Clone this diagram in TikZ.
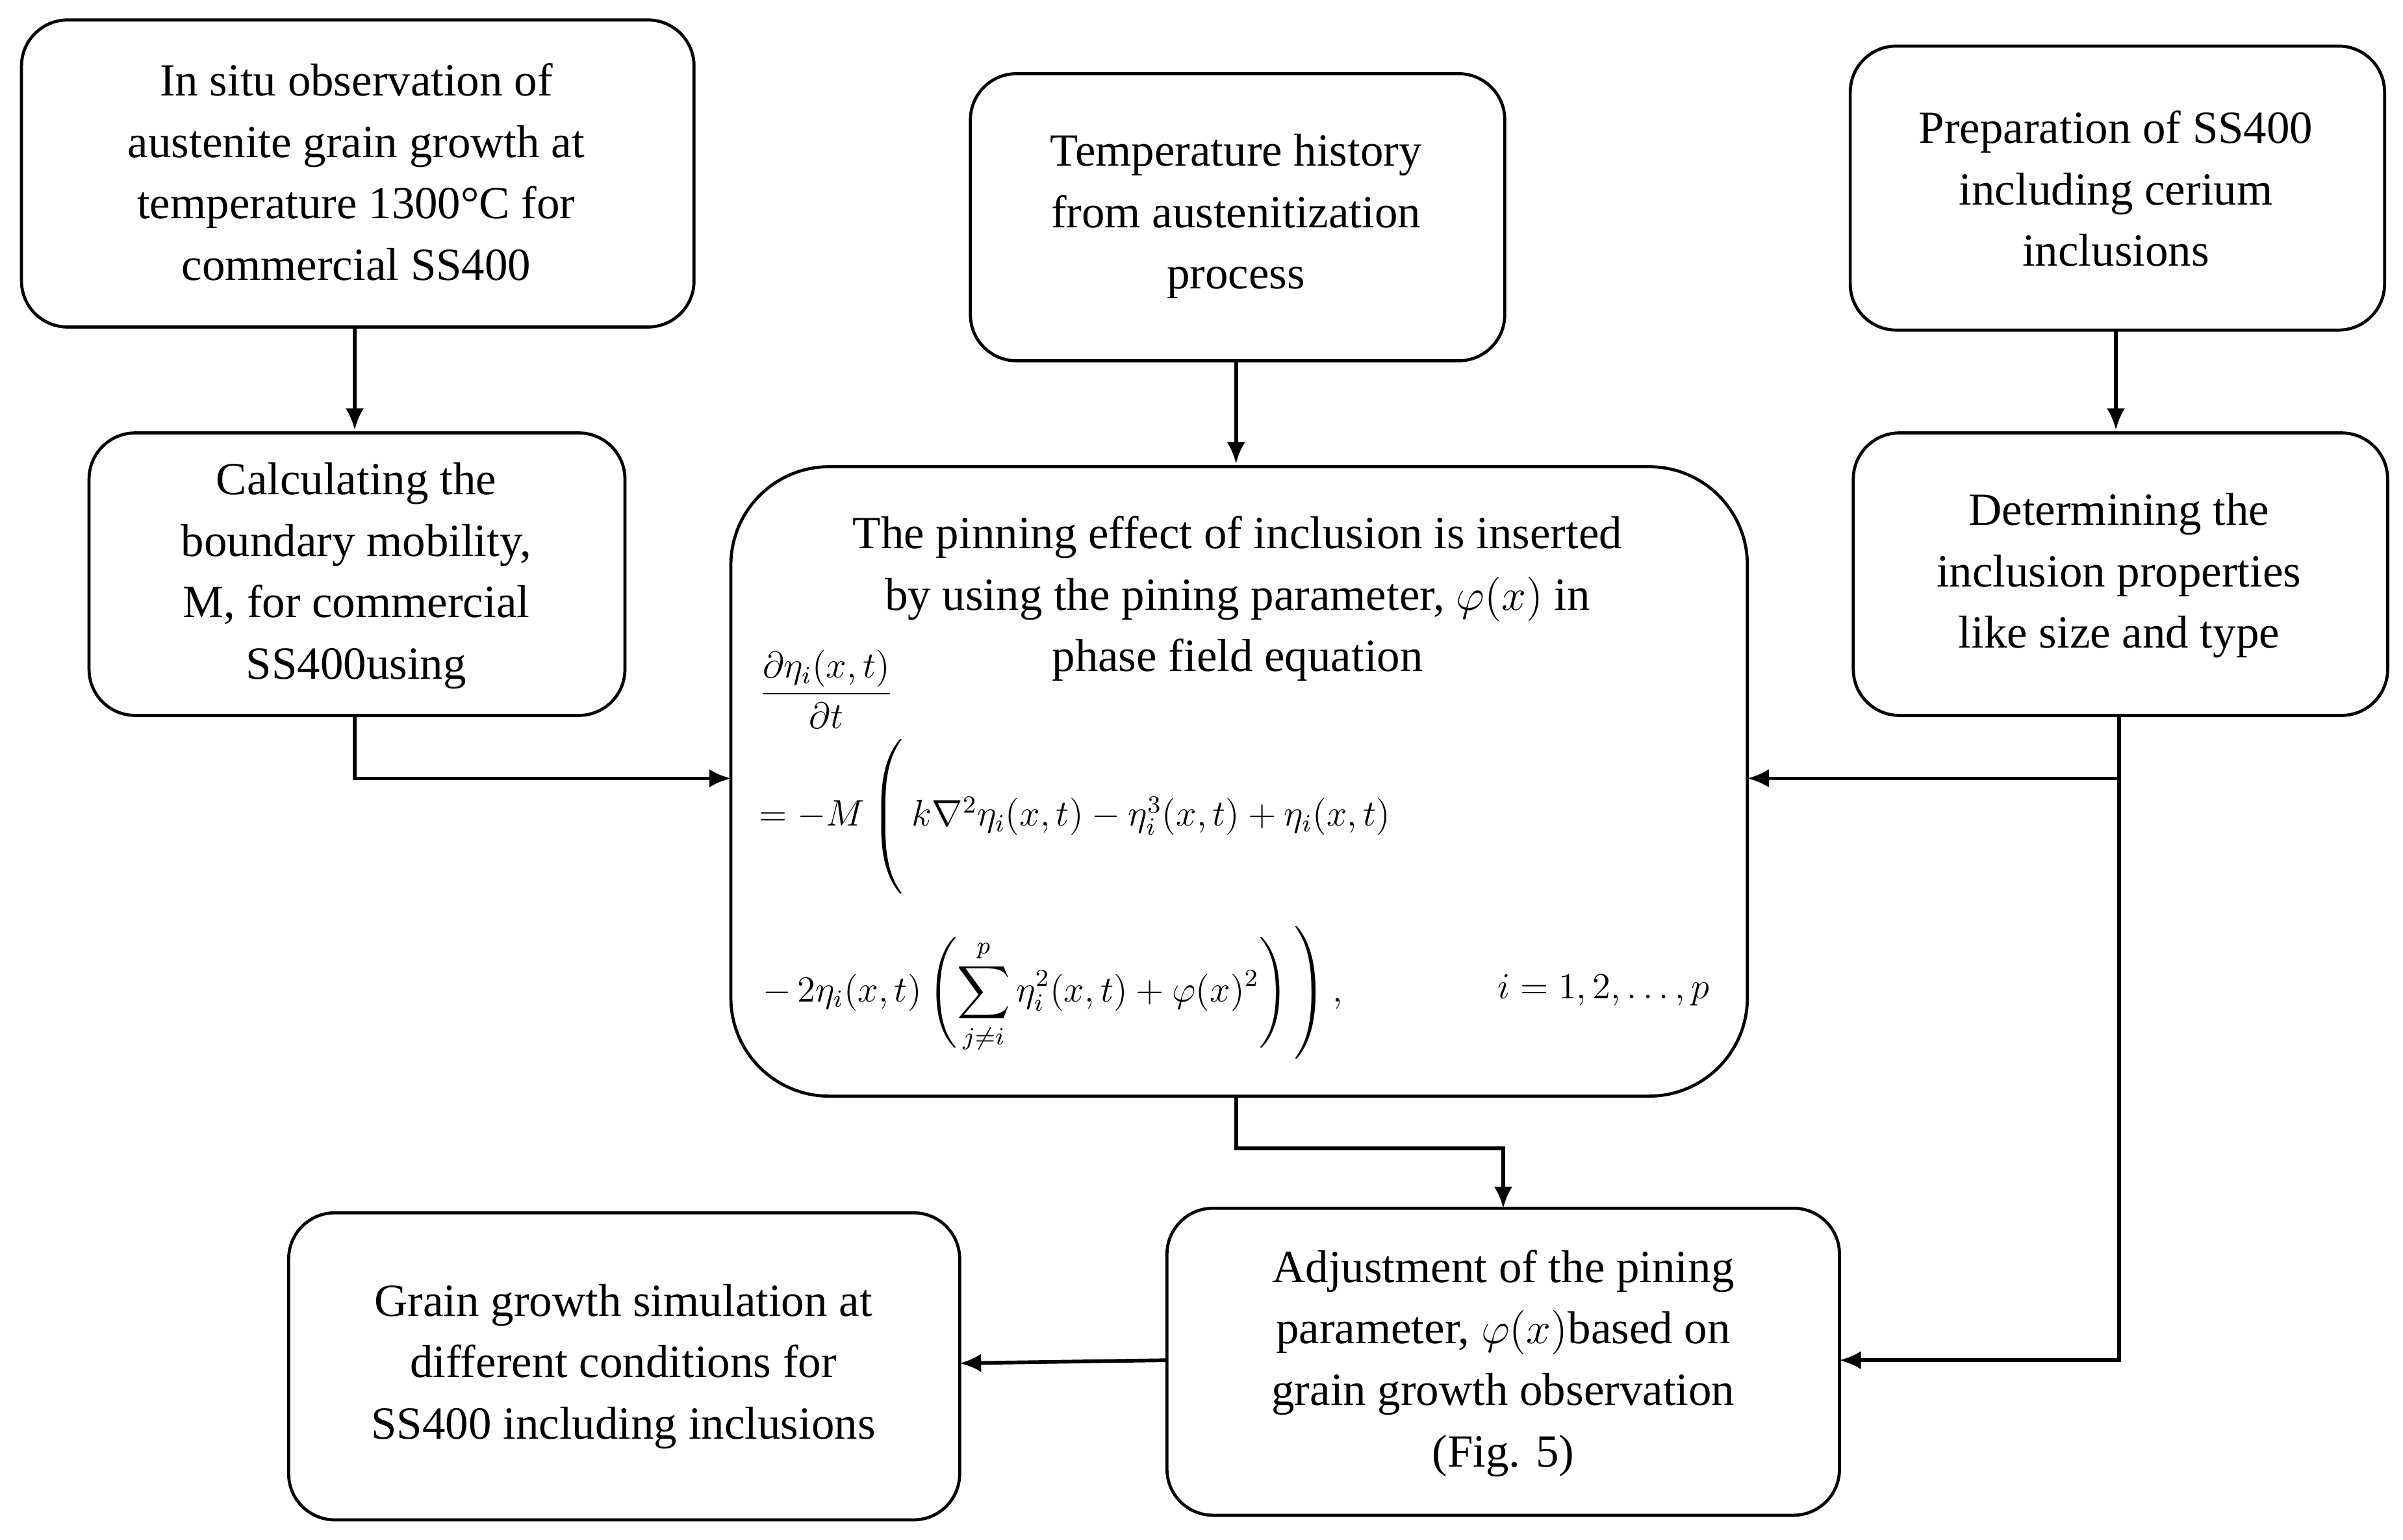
\documentclass[tikz,border=0pt]{standalone}
\usepackage{fontspec}
\usepackage{amsmath}
\setmainfont{Liberation Serif}
\usetikzlibrary{arrows.meta}
\begin{document}
\begin{tikzpicture}[x=0.5pt,y=-0.5pt,
  box/.style={draw,line width=1pt,rounded corners=15pt},
  txt/.style={align=center,font=\fontsize{15}{20}\selectfont,inner sep=0},
  ar/.style={line width=1.2pt,-{Latex[length=7pt,width=6pt]}},
  eq/.style={inner sep=0,anchor=west,font=\fontsize{11.5}{13}\selectfont}]
\useasboundingbox (0,0) rectangle (1565,1003);
\draw[box] (14,13) rectangle (452,213);
\node[txt] (At) at (232,112) {In situ observation of\\austenite grain growth at\\temperature 1300°C for\\commercial SS400};
\draw[box] (632,48) rectangle (980,235);
\node[txt] (Bt) at (805,141) {Temperature history\\from austenitization\\process};
\draw[box] (1205,30) rectangle (1553,215);
\node[txt] (Ct) at (1378,123) {Preparation of SS400\\including cerium\\inclusions};
\draw[box] (58,282) rectangle (407,466);
\node[txt] (Dt) at (232,375) {Calculating the\\boundary mobility,\\M, for commercial\\SS400using};
\draw[box,rounded corners=32pt] (476,304) rectangle (1138,714);
\node[txt] (Et) at (806,390) {The pinning effect of inclusion is inserted\\by using the pining parameter, $\varphi(x)$ in\\phase field equation};
\node[eq] (e1) at (494,449) {$\dfrac{\partial\eta_i(x,t)}{\partial t}$};
\node[eq] (e2) at (494,532) {$=-M\left(\vphantom{\rule{0pt}{28pt}}\ k\nabla^2\eta_i(x,t)-\eta_i^3(x,t)+\eta_i(x,t)\right.$};
\node[eq] (e3) at (494,645) {$\left.-\,2\eta_i(x,t)\left(\displaystyle\sum_{j\neq i}^{p}\eta_i^2(x,t)+\varphi(x)^2\right)\vphantom{\rule{0pt}{26pt}}\right),$};
\node[eq] (e4) at (975,645) {$i=1,2,\dots,p$};
\draw[box] (1207,282) rectangle (1555,466);
\node[txt] (Ft) at (1380,375) {Determining the\\inclusion properties\\like size and type};
\draw[box] (188,790) rectangle (625,990);
\node[txt] (Gt) at (406,890) {Grain growth simulation at\\different conditions for\\SS400 including inclusions};
\draw[box] (760,787) rectangle (1198,987);
\node[txt] (Ht) at (979,888) {Adjustment of the pining\\parameter, $\varphi(x)$based on\\grain growth observation\\(Fig. 5)};
\coordinate (a1) at (231,213); \coordinate (a2) at (231,280);
\coordinate (b1) at (805,235); \coordinate (b2) at (805,302);
\coordinate (c1) at (1378,215); \coordinate (c2) at (1378,280);
\coordinate (d1) at (231,466); \coordinate (d2) at (476,507);
\coordinate (f1) at (1380,466); \coordinate (f2) at (1198,886); \coordinate (f3) at (1138,507);
\coordinate (fm) at (1380,507);
\coordinate (e1b) at (805,714); \coordinate (em) at (805,748); \coordinate (h1) at (979,787);
\coordinate (h2) at (760,886); \coordinate (g1) at (625,888);
\draw[ar] (a1)--(a2);
\draw[ar] (b1)--(b2);
\draw[ar] (c1)--(c2);
\draw[ar] (d1)|-(d2);
\draw[ar] (f1)|-(f2);
\draw[ar] (fm)--(f3);
\draw[ar] (e1b)--(em)-|(h1);
\draw[ar] (h2)--(g1);
\end{tikzpicture}
\end{document}
